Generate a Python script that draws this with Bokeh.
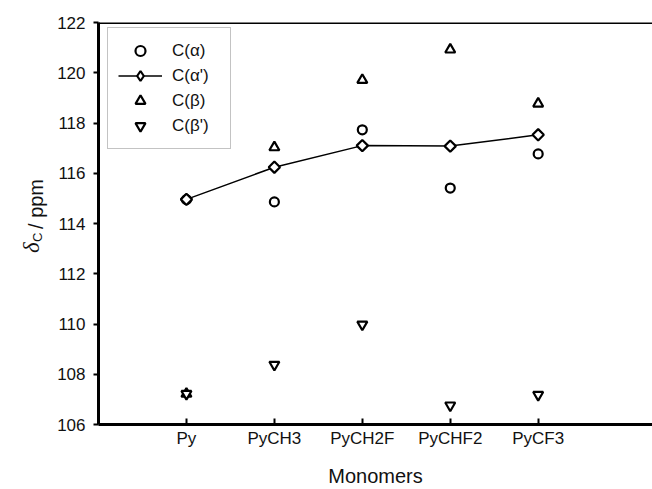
import math
from bokeh.plotting import figure
from bokeh.layouts import row
from bokeh.models import FixedTicker, Span, Legend, LegendItem
from bokeh.core.properties import value
from bokeh.embed import file_html
from bokeh.resources import INLINE

monomers = ["Py", "PyCH3", "PyCH2F", "PyCHF2", "PyCF3"]
c_alpha = [114.95, 114.86, 117.73, 115.41, 116.77]
c_alpha_p = [114.96, 116.24, 117.10, 117.08, 117.53]
c_beta = [107.22, 117.03, 119.71, 120.92, 118.77]
c_beta_p = [107.22, 108.38, 109.98, 106.76, 107.18]
y_ticks = [106, 108, 110, 112, 114, 116, 118, 120, 122]

x = [i + 1 for i in range(len(monomers))]
FONT = "Liberation Sans"
TXT = "#111111"

LW = 50  # width of the label strip
TOP, BOTTOM = 22, 64
p = figure(width=652 - LW, height=489, output_backend="svg", toolbar_location=None,
           x_range=(0, 6.3), y_range=(106, 122), title=None,
           min_border_left=98 - LW, min_border_right=0, min_border_top=TOP,
           min_border_bottom=BOTTOM)
p.outline_line_color = None
p.xgrid.visible = False
p.ygrid.visible = False

p.xaxis.ticker = FixedTicker(ticks=x)
p.xaxis.major_label_overrides = {xi: m for xi, m in zip(x, monomers)}
p.yaxis.ticker = FixedTicker(ticks=y_ticks)

for ax in (p.xaxis[0], p.yaxis[0]):
    ax.axis_line_width = 3
    ax.axis_line_color = "black"
    ax.major_tick_line_width = 2
    ax.major_tick_line_color = "black"
    ax.minor_tick_line_color = None
    ax.major_label_text_font = FONT
    ax.major_label_text_font_size = "17px"
    ax.major_label_text_color = TXT
    ax.axis_label_text_font = FONT
    ax.axis_label_text_font_style = "normal"
    ax.axis_label_text_color = TXT

p.xaxis.major_tick_in = 6
p.xaxis.major_tick_out = 0
p.xaxis.major_label_standoff = 4
p.xaxis.axis_label = "Monomers"
p.xaxis.axis_label_text_font_size = "20px"
p.xaxis.axis_label_standoff = 14

p.yaxis.major_tick_in = 0
p.yaxis.major_tick_out = 5
p.yaxis.major_label_standoff = 8

# top frame line
p.add_layout(Span(location=122, dimension="width", line_color="black", line_width=3))

r_a = p.scatter(x, c_alpha, marker="circle", size=9, line_width=2.2,
                line_color="black", fill_color="white")
r_ap_line = p.line(x, c_alpha_p, line_color="black", line_width=1.5)
r_ap = p.scatter(x, c_alpha_p, marker="square", size=8, angle=math.pi / 4,
                 line_width=2.2, line_color="black", fill_color="white")
# legend-only diamond (not visible in the plot area)
r_ap_leg = p.scatter([float("nan")], [float("nan")], marker="diamond", size=12,
                     line_width=2.2, line_color="black", fill_color="white")
r_b = p.scatter(x, c_beta, marker="triangle", size=10, line_width=2.2,
                line_color="black", fill_color="white")
r_bp = p.scatter(x, c_beta_p, marker="inverted_triangle", size=10, line_width=2.2,
                 line_color="black", fill_color="white")

legend = Legend(items=[
    LegendItem(label="C(\u03b1)", renderers=[r_a]),
    LegendItem(label="C(\u03b1')", renderers=[r_ap_line, r_ap_leg]),
    LegendItem(label="C(\u03b2)", renderers=[r_b]),
    LegendItem(label="C(\u03b2')", renderers=[r_bp]),
], location=(9, 275))
legend.border_line_color = "#888888"
legend.border_line_width = 1
legend.background_fill_alpha = 1
legend.padding = 10
legend.spacing = 0
legend.glyph_width = 44
legend.glyph_height = 25
legend.label_height = 25
legend.label_width = 48
legend.label_standoff = 10
legend.label_text_font = FONT
legend.label_text_font_size = "17px"
legend.label_text_color = TXT
legend.margin = 0
p.add_layout(legend, "center")

# left strip holding the y axis title: delta with subscript C
# (its frame matches the main frame vertically; y range is in canvas px from bottom)
q = figure(width=LW, height=489, output_backend="svg", toolbar_location=None,
           x_range=(0, LW), y_range=(BOTTOM, 489 - TOP), title=None,
           min_border_left=0, min_border_right=0, min_border_top=TOP,
           min_border_bottom=BOTTOM)
q.axis.visible = False
q.grid.visible = False
q.outline_line_color = None
ang = math.pi / 2
q.text(x=[31], y=[489 - 253], text=["\u03b4"], angle=ang,
       text_font=value("Liberation Serif"), text_font_style="italic",
       text_font_size="23px", text_color=TXT, text_align="left",
       text_baseline="alphabetic")
q.text(x=[37], y=[489 - 242], text=["C"], angle=ang,
       text_font=value(FONT), text_font_size="13px", text_color=TXT,
       text_align="left", text_baseline="alphabetic")
q.text(x=[35], y=[489 - 229], text=["/ ppm"], angle=ang,
       text_font=value(FONT), text_font_size="20px", text_color=TXT,
       text_align="left", text_baseline="alphabetic")

layout = row(q, p, spacing=0)
open("out.html", "w").write(file_html(layout, INLINE))
